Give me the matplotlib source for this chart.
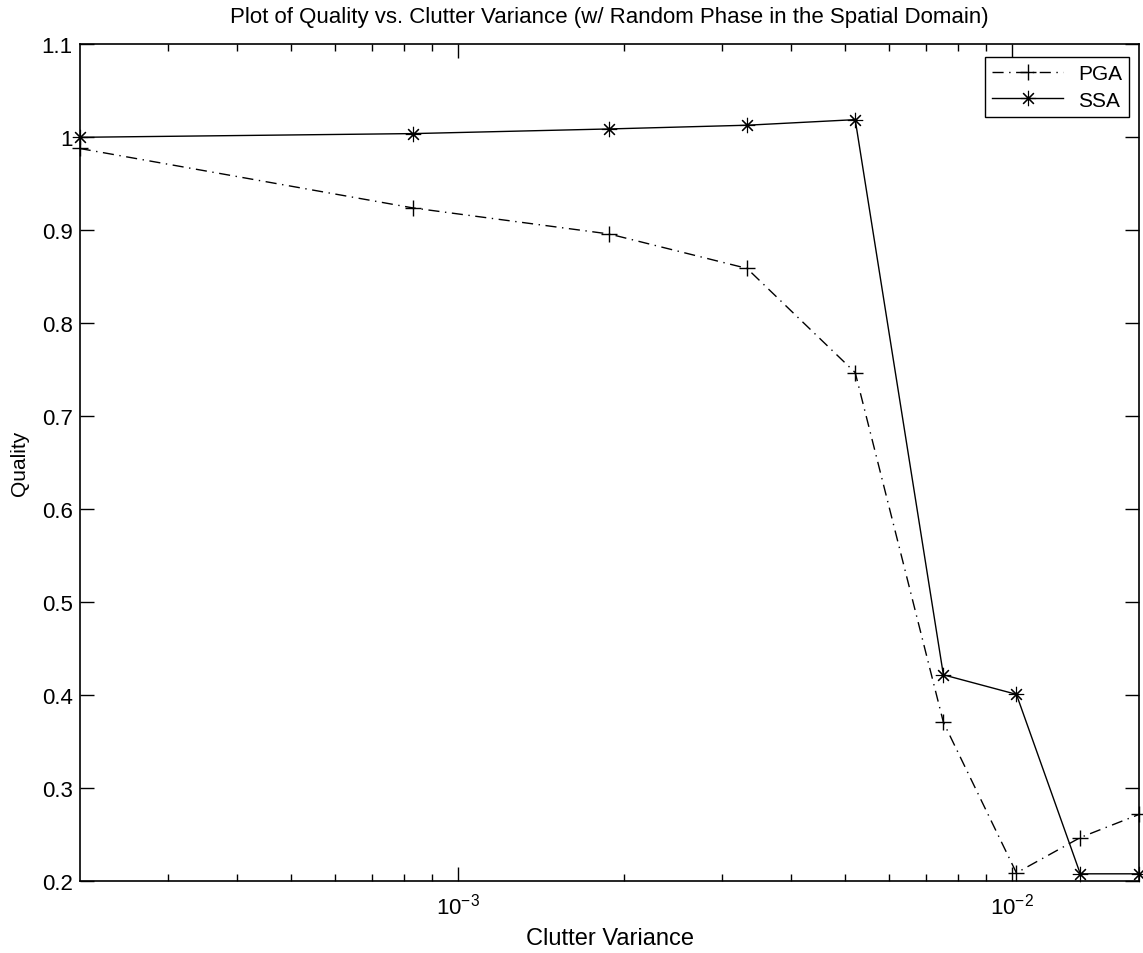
import numpy as np
import matplotlib.pyplot as plt

plt.rcParams['font.family'] = ['Liberation Sans', 'DejaVu Sans']

# clutter variance levels
variance = [2.08e-4, 8.32e-4, 1.88e-3, 3.33e-3, 5.22e-3, 7.53e-3, 1.02e-2, 1.33e-2, 1.70e-2]

# image quality for each autofocus method
pga_quality = [0.988, 0.924, 0.896, 0.859, 0.747, 0.371, 0.209, 0.247, 0.272]
ssa_quality = [1.000, 1.004, 1.009, 1.013, 1.019, 0.422, 0.401, 0.208, 0.208]

fig = plt.figure(figsize=(11.43, 9.54), dpi=100)
ax = fig.add_axes([0.0697, 0.0752, 0.9271, 0.8773])

# '+' and asterisk markers, no clipping at the axes edge
ax.semilogx(variance, pga_quality, color='k', lw=1.0, ls=(0, (8, 4, 1, 4)),
            marker='+', ms=12, mew=1.0, label='PGA', clip_on=False)
ax.semilogx(variance, ssa_quality, color='k', lw=1.0, ls='-',
            marker=(8, 2, 0), ms=11, mew=0.8, label='SSA', clip_on=False)

ax.set_xlim(variance[0], variance[-1])
ax.set_ylim(0.2, 1.1)
ax.set_yticks(np.arange(0.2, 1.11, 0.1))
ax.set_yticklabels(['0.2', '0.3', '0.4', '0.5', '0.6', '0.7', '0.8', '0.9', '1', '1.1'])

ax.tick_params(which='both', direction='in', top=True, right=True, labelsize=16)
ax.tick_params(which='major', length=10, width=1)
ax.tick_params(which='minor', length=5, width=1)
ax.tick_params(axis='x', pad=8)
ax.tick_params(axis='y', pad=5)
for s in ax.spines.values():
    s.set_linewidth(1.2)

ax.set_xlabel('Clutter Variance', fontsize=17, labelpad=6)
ax.set_ylabel('Quality', fontsize=15, labelpad=9)
ax.set_title('Plot of Quality vs. Clutter Variance (w/ Random Phase in the Spatial Domain)',
             fontsize=16, pad=16)

leg = ax.legend(loc='upper right', bbox_to_anchor=(0.9903, 0.9848), borderaxespad=0,
                fontsize=15, frameon=True, fancybox=False, edgecolor='k', framealpha=1,
                handlelength=3.4, handletextpad=0.7, borderpad=0.35, labelspacing=0.35)
leg.get_frame().set_linewidth(1.0)

fig.savefig('out.png', dpi=100)
